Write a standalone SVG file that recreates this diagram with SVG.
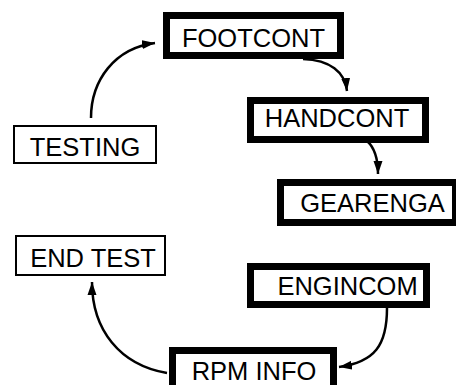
<svg xmlns="http://www.w3.org/2000/svg" width="456" height="385" viewBox="0 0 456 385">
<style>
.thick{fill:#fff;stroke:#000;stroke-width:7}
.thin{fill:#fff;stroke:#000;stroke-width:2}
text{font-family:"Liberation Sans",Arial,sans-serif;font-size:25.5px;fill:#000;text-anchor:middle}
.c{fill:none;stroke:#000;stroke-width:2.5}
</style>
<defs>
<marker id="ah" markerUnits="userSpaceOnUse" markerWidth="14" markerHeight="10" refX="13" refY="5" orient="auto">
<path d="M0,0.5 L13,5 L0,9.5 z" fill="#000"/>
</marker>
</defs>
<rect width="456" height="385" fill="#fff"/>
<g id="connectors">
<path class="c" d="M91 118 C91 80 115 48 155 43" marker-end="url(#ah)"/>
<path class="c" d="M303 59 C330 60 345 72 347 91" marker-end="url(#ah)"/>
<path class="c" d="M367 141 C375 148 378 158 378 174" marker-end="url(#ah)"/>
<path class="c" d="M387 308 C387 345 375 362 339 367" marker-end="url(#ah)"/>
<path class="c" d="M167 373 C120 365 92 330 92 282" marker-end="url(#ah)"/>
</g>
<g id="FOOTCONT"><rect class="thick" x="166.5" y="15.5" width="174" height="40"/><text x="253.5" y="47">FOOTCONT</text></g>
<g id="HANDCONT"><rect class="thick" x="250.5" y="100.5" width="175" height="39"/><text x="337" y="127">HANDCONT</text></g>
<g id="GEARENGA"><rect class="thick" x="280.5" y="182.5" width="175" height="40"/><text x="372.5" y="212">GEARENGA</text></g>
<g id="TESTING"><rect class="thin" x="14" y="126" width="142" height="37"/><text x="85" y="156">TESTING</text></g>
<g id="ENDTEST"><rect class="thin" x="16" y="236" width="149" height="39"/><text x="93" y="267">END TEST</text></g>
<g id="ENGINCOM"><rect class="thick" x="250.5" y="266.5" width="176" height="38"/><text x="347.5" y="295">ENGINCOM</text></g>
<g id="RPMINFO"><rect class="thick" x="172.5" y="350.5" width="161" height="40"/><text x="254" y="380">RPM INFO</text></g>
</svg>
